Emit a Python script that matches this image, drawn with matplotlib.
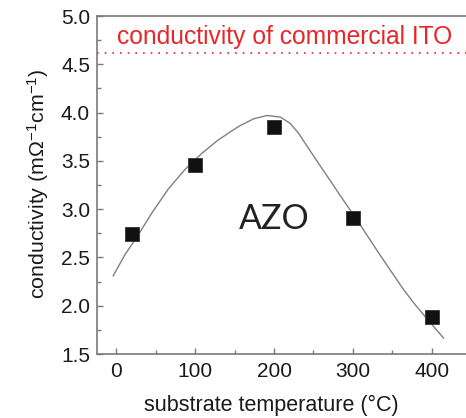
import matplotlib
matplotlib.use("Agg")
import matplotlib.pyplot as plt
from matplotlib.ticker import MultipleLocator

plt.rcParams['font.family'] = ['Liberation Sans', 'DejaVu Sans']
plt.rcParams['mathtext.fontset'] = 'custom'
plt.rcParams['mathtext.rm'] = 'Liberation Sans'
plt.rcParams['mathtext.it'] = 'Liberation Sans:italic'

# measured data
temperature = [20, 100, 200, 300, 400]
conductivity = [2.745, 3.46, 3.855, 2.91, 1.88]

# fitted curve
fit_x = [-4, 11, 26, 45, 66, 87, 108, 129, 150, 157, 174, 191, 208, 220, 231, 242, 258, 275, 284, 305, 334, 349, 364, 379, 394, 415]
fit_y = [2.31, 2.53, 2.71, 2.96, 3.21, 3.41, 3.575, 3.715, 3.83, 3.865, 3.935, 3.97, 3.953, 3.891, 3.788, 3.65, 3.455, 3.25, 3.14, 2.89, 2.53, 2.35, 2.17, 2.01, 1.865, 1.665]

ito_level = 4.615
ito_label = "conductivity of commercial ITO"
x_ticks = [0, 100, 200, 300, 400]
y_ticks = [1.5, 2.0, 2.5, 3.0, 3.5, 4.0, 4.5, 5.0]

fig = plt.figure(figsize=(4.66, 4.18), dpi=100)
ax = fig.add_axes([0.2082, 0.1531, 0.8029, 0.8086])

spine_c = '#7a7a7a'
ax.plot(fit_x, fit_y, color='#808080', lw=1.0, zorder=2, solid_joinstyle='round')
ax.plot(temperature, conductivity, 's', color='#111111', ms=9.5, mec='#333333', mew=0.6, zorder=3)
ax.axhline(ito_level, color='#e8262a', lw=1.2, ls=(0, (1, 3.6)), zorder=1)
ax.text(285/466, 1 - 37/418, ito_label, transform=fig.transFigure, color='#e8262a',
        fontsize=17.7, ha='center', va='center')
ax.text(200, 3.0 - (219 - 209) / 96.8, 'AZO', fontsize=24.5, ha='center', va='center',
        family=['Lato', 'DejaVu Sans'], color='#222222')

ax.set_xlim(-24.5, 450)
ax.set_ylim(1.5, 5.0)
ax.set_xticks(x_ticks)
ax.set_yticks(y_ticks)
ax.set_yticklabels([f"{v:.1f}" for v in y_ticks])
ax.xaxis.set_minor_locator(MultipleLocator(50))
ax.yaxis.set_minor_locator(MultipleLocator(0.25))
ax.tick_params(which='both', direction='in', color=spine_c, width=1.0, labelsize=15, labelcolor='#1a1a1a')
ax.tick_params(which='major', length=4.5)
ax.tick_params(which='minor', length=3)
ax.tick_params(axis='x', pad=6)
ax.tick_params(axis='y', pad=5)
for s in ['left', 'bottom', 'top']:
    ax.spines[s].set_color(spine_c)
    ax.spines[s].set_linewidth(1.2)
ax.spines['right'].set_visible(False)

ax.set_xlabel('substrate temperature (°C)', fontsize=15.5, color='#1a1a1a')
ax.xaxis.label.set_va('center')
ax.xaxis.set_label_coords((271.5 - 97) / 374.1, -(405 - 354) / 338.0)
ax.set_ylabel(r'conductivity (m$\Omega^{-1}$cm$^{-1}$)', fontsize=15.4, color='#1a1a1a')
ax.yaxis.label.set_va('center')
ax.yaxis.set_label_coords(-(97 - 38) / 374.1, (354 - 184) / 338.0)

fig.savefig('out.png', dpi=100)
